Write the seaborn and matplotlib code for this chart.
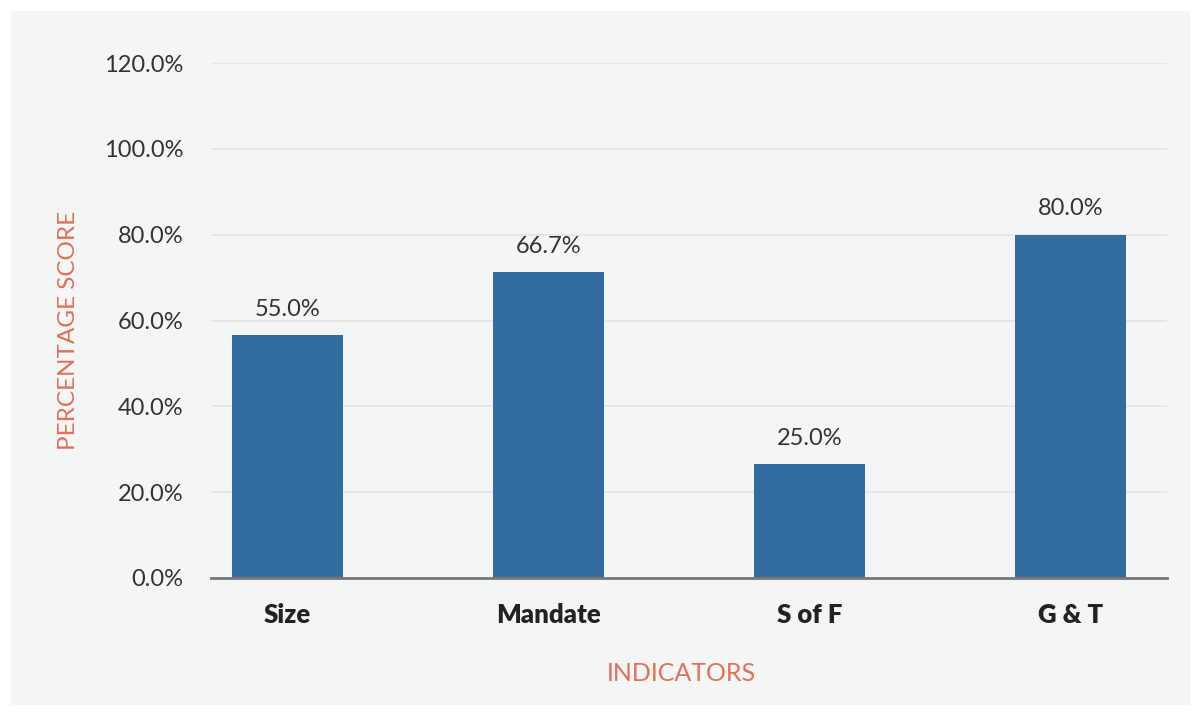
import matplotlib
matplotlib.use("Agg")
import matplotlib.pyplot as plt
import seaborn as sns
import pandas as pd
from matplotlib.patches import Rectangle
from matplotlib.ticker import FuncFormatter

# data
indicators = ["Size", "Mandate", "S of F", "G & T"]
bar_heights = [56.6, 71.3, 26.6, 80.0]
value_labels = ["55.0%", "66.7%", "25.0%", "80.0%"]

bar_color = "#336d9f"
accent = "#e0705a"
panel_bg = "#f4f5f5"

sns.set_theme(style="white")
plt.rcParams["font.family"] = ["Lato", "DejaVu Sans"]

df = pd.DataFrame({"indicator": indicators, "score": bar_heights})

fig = plt.figure(figsize=(12, 7.16), dpi=100, facecolor="white")
fig.patches.append(Rectangle((11 / 1200, 11 / 716), 1179 / 1200, 694 / 716,
                             transform=fig.transFigure, facecolor=panel_bg,
                             edgecolor="none", zorder=-10))
ax = fig.add_axes([211 / 1200, 1 - 578 / 716, 956 / 1200, 515 / 716])
ax.set_facecolor(panel_bg)

sns.barplot(data=df, x="indicator", y="score", color=bar_color,
            width=0.425, saturation=1, linewidth=0, ax=ax, zorder=3)

ax.set_ylim(0, 120)
ax.set_xlim(-0.294, 3.37)
ax.set_yticks(range(0, 121, 20))
ax.yaxis.set_major_formatter(FuncFormatter(lambda v, p: f"{v:.1f}%"))
ax.grid(axis="y", color="#e2e3e3", linewidth=1.2, zorder=0)
ax.grid(axis="x", visible=False)

for s in ["top", "right", "left"]:
    ax.spines[s].set_visible(False)
ax.spines["bottom"].set_color("#777777")
ax.spines["bottom"].set_linewidth(2)
ax.spines["bottom"].set_zorder(4)

ax.tick_params(axis="y", length=0, pad=20, labelsize=17, labelcolor="#333333")
ax.tick_params(axis="x", length=0, pad=18, labelsize=18.5, labelcolor="#222222")
for t in ax.get_xticklabels():
    t.set_fontweight("heavy")

for i, (h, lab) in enumerate(zip(bar_heights, value_labels)):
    ax.annotate(lab, (i, h), xytext=(0, 11), textcoords="offset points",
                ha="center", va="bottom", fontsize=17, color="#333333")

ax.set_xlabel("INDICATORS", fontsize=18, color=accent)
ax.set_ylabel("PERCENTAGE SCORE", fontsize=17.5, color=accent)
ax.xaxis.set_label_coords(0.4916, -0.163)
ax.yaxis.set_label_coords(-0.138, 0.48)

fig.savefig("out.png", dpi=100, facecolor="white")
